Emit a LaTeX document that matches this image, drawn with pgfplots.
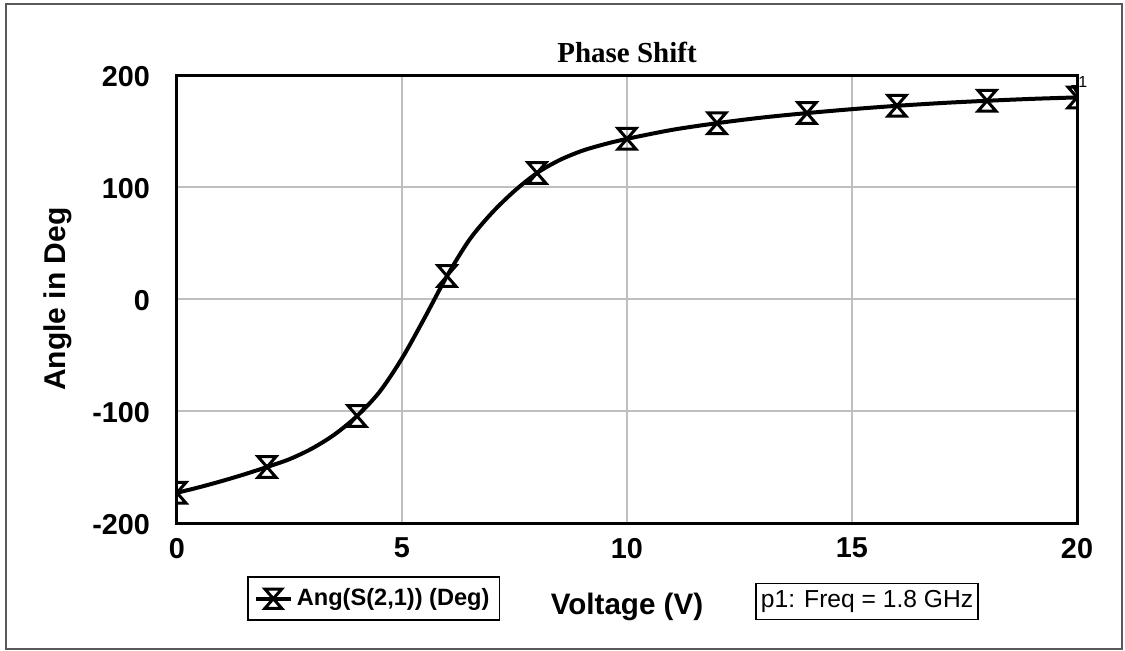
\documentclass[border=0pt]{standalone}
\usepackage{fontspec}
\setmainfont{Liberation Sans}
\newfontfamily\serifbf{Liberation Serif}
\usepackage{pgfplots}
\pgfplotsset{compat=1.18}
\pgfdeclareplotmark{hourglass}{%
 \pgfpathmoveto{\pgfqpoint{-\pgfplotmarksize}{1.15\pgfplotmarksize}}%
 \pgfpathlineto{\pgfqpoint{\pgfplotmarksize}{1.15\pgfplotmarksize}}%
 \pgfpathlineto{\pgfqpoint{-\pgfplotmarksize}{-1.15\pgfplotmarksize}}%
 \pgfpathlineto{\pgfqpoint{\pgfplotmarksize}{-1.15\pgfplotmarksize}}%
 \pgfpathclose
 \pgfusepathqstroke}
\begin{document}
\begin{tikzpicture}
\useasboundingbox (-88.5pt,-63.5pt) rectangle (474pt,261.5pt);
\draw[gray!70!black, line width=0.8pt] (-85.5pt,-63pt) rectangle (472.5pt,259.5pt);
\begin{axis}[
  at={(0,0)}, anchor=south west,
  scale only axis, width=450pt, height=224pt,
  xmin=0, xmax=20, ymin=-200, ymax=200,
  xtick={0,5,10,15,20}, ytick={-200,-100,0,100,200},
  grid=major,
  grid style={line width=1pt, color=black!25},
  axis line style={line width=1.5pt},
  major tick length=0pt,
  /pgf/number format/assume math mode=true,
  tick label style={font=\fontsize{14.4}{16}\selectfont\bfseries},
  xticklabel style={yshift=-4pt},
  yticklabel style={xshift=-10pt, yshift=-1pt},
  title={Phase Shift},
  title style={font=\serifbf\fontsize{14.5}{16}\selectfont\bfseries, at={(axis description cs:0.5,1)}, anchor=base, yshift=0.5pt},
  xlabel={Voltage (V)},
  xlabel style={font=\fontsize{14.8}{16}\selectfont\bfseries, at={(axis description cs:0.5,0)}, anchor=base, yshift=-45.5pt},
  ylabel={Angle in Deg},
  ylabel style={font=\fontsize{15}{16}\selectfont\bfseries, at={(axis description cs:0,0.5)}, anchor=center, yshift=59.5pt},
  legend style={at={(0.0778,-0.1190)}, anchor=north west, draw=black, line width=0.8pt,
     font=\fontsize{11.8}{14}\selectfont\bfseries, inner xsep=3pt, inner ysep=3.75pt},
  legend image code/.code={%
     \draw[line width=2pt] (0pt,0pt) -- (17.5pt,0pt);
     \draw[line width=1.5pt] plot[mark=hourglass, mark size=4.2pt] coordinates {(8.75pt,0pt)};},
  clip mode=individual,
  clip marker paths=true,
]
\addplot[black, line width=2pt, smooth, forget plot] coordinates {
(0,-173) (0.5,-168) (1,-162.5) (1.5,-156.5) (2,-150) (2.5,-143) (3,-133.5) (3.5,-121)
(4,-104.5) (4.5,-83) (5,-53) (5.5,-17) (6,20.5) (6.5,53) (7,77) (7.5,96.5) (8,112.5)
(8.5,124) (9,132.3) (9.5,138.2) (10,143) (11,151) (12,157) (13,162) (14,166) (15,169.5)
(16,172.5) (17,175) (18,177) (19,178.7) (20,180)
};
\addplot[black, line width=1.5pt, only marks, mark=hourglass, mark size=4.5pt] coordinates {
(0,-173) (2,-150) (4,-104.5) (6,20.5) (8,112.5) (10,143) (12,157) (14,166) (16,172.5) (18,177) (20,180)
};
\addlegendentry{Ang(S(2,1)) (Deg)}
\addplot[black, only marks, mark=triangle*, mark size=3pt, mark options={rotate=180}, forget plot] coordinates {(20,188)};
\node[font=\fontsize{8}{9}\selectfont, anchor=south west, inner sep=0.5pt] at (axis cs:20,188) {1};
\node[draw=black, line width=0.8pt, font=\fontsize{12.3}{14}\selectfont, inner xsep=2.5pt, inner ysep=3.5pt]
  at (axis description cs:0.7667,-0.1752) {p1: Freq = 1.8 GHz};
\end{axis}
\end{tikzpicture}
\end{document}
